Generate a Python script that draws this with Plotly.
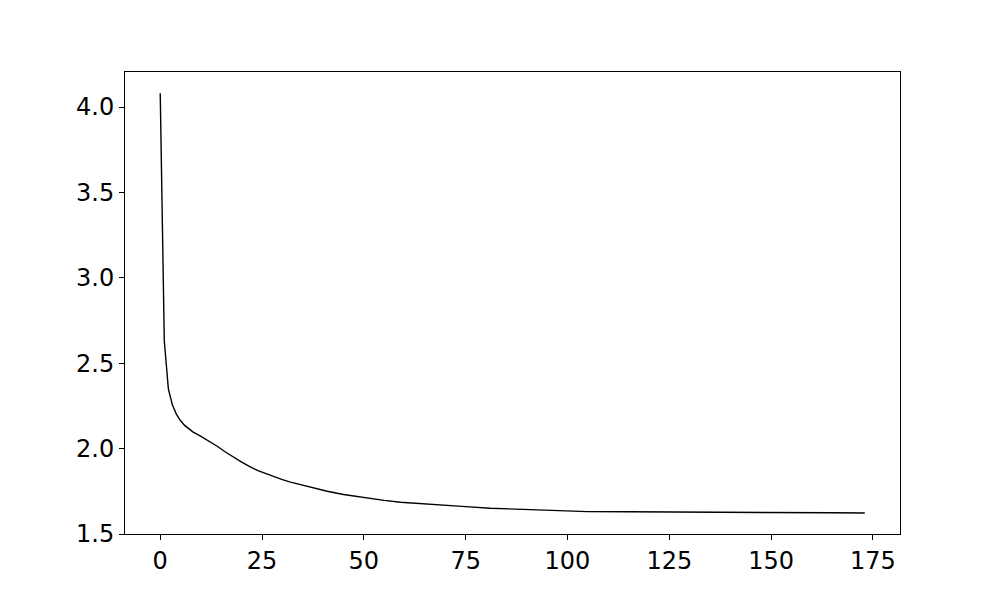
import plotly.graph_objects as go

# epoch and loss values
epochs = [0, 1, 2, 3, 4, 5, 6, 7, 8, 10, 12, 14, 16, 18, 20, 22, 24, 26, 28, 30,
          32, 34, 39, 41, 45, 51, 55, 59, 65, 71, 75, 81, 87, 93, 100, 105, 115,
          125, 135, 145, 155, 165, 173]
loss = [4.08, 2.63, 2.35, 2.255, 2.20, 2.163, 2.136, 2.115, 2.098, 2.072, 2.045,
        2.014, 1.980, 1.949, 1.921, 1.894, 1.871, 1.853, 1.834, 1.818, 1.804,
        1.792, 1.763, 1.750, 1.731, 1.709, 1.697, 1.686, 1.675, 1.666, 1.660,
        1.651, 1.645, 1.641, 1.636, 1.631, 1.630, 1.628, 1.627, 1.626, 1.625,
        1.624, 1.623]

x_ticks = [0, 25, 50, 75, 100, 125, 150, 175]
y_ticks = [1.5, 2.0, 2.5, 3.0, 3.5, 4.0]

fig = go.Figure(go.Scatter(x=epochs, y=loss, mode="lines",
                           line=dict(color="black", width=1.4)))

axis_style = dict(showgrid=False, zeroline=False, showline=True, mirror=True,
                  linecolor="black", linewidth=1, ticks="outside", ticklen=5,
                  tickcolor="black", tickwidth=1,
                  tickfont=dict(family="DejaVu Sans", size=24, color="black"))

fig.update_xaxes(range=[-8.65, 181.65], tickvals=x_ticks, ticklabelstandoff=0, **axis_style)
fig.update_yaxes(range=[1.5, 4.205], tickvals=y_ticks, tickformat=".1f",
                 ticklabelstandoff=0, **axis_style)

# page body has an 8px margin, so the plot area is shifted back by that much
fig.update_layout(width=1000, height=600, plot_bgcolor="white", paper_bgcolor="white",
                  margin=dict(l=117, r=108, t=64, b=74), showlegend=False)

fig.write_html("out.html")
